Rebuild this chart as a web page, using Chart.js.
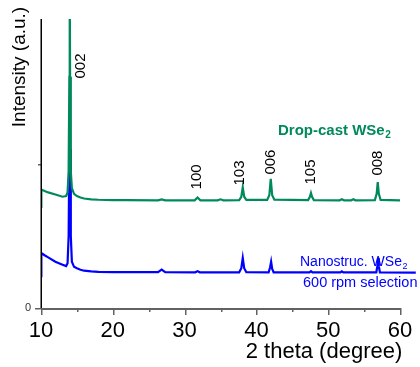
<!DOCTYPE html>
<html>
<head>
<meta charset="utf-8">
<script src="https://cdn.jsdelivr.net/npm/chart.js@4.4.1/dist/chart.umd.min.js"></script>
<style>
  html, body { margin: 0; padding: 0; background: #fff; }
  #wrap { width: 420px; height: 367px; }
</style>
</head>
<body>
<div id="wrap"><canvas id="grafica" width="420" height="367"></canvas></div>
<script>
// XRD patterns of WSe2 (2 theta in degrees, intensity offset per curve)
Chart.defaults.font.family = "'Liberation Sans', Arial, sans-serif";

const dropTheta = [10.0, 10.05, 10.5, 11, 12, 13, 13.5, 13.7, 13.85, 13.95, 14.0, 14.05, 14.15, 14.3, 14.6, 15, 15.5, 16, 17, 18, 20, 22,
  26.3, 26.8, 27.3, 31.4, 31.8, 32.2, 34.6, 35.0, 35.4, 37.6, 37.9, 38.1, 38.3, 38.6, 41.5, 41.8, 42.0, 42.2, 42.5,
  47.2, 47.45, 47.6, 47.75, 48.0, 51.6, 51.9, 52.2, 53.2, 53.5, 53.8, 56.5, 56.75, 56.9, 57.05, 57.3, 60];
const dropInt = [0.70, 0.82, 0.81, 0.80, 0.785, 0.77, 0.775, 0.80, 0.95, 1.6, 2.3, 1.6, 0.95, 0.83, 0.79, 0.775, 0.765, 0.758, 0.752, 0.749, 0.747, 0.746,
  0.745, 0.752, 0.745, 0.745, 0.765, 0.745, 0.745, 0.752, 0.745, 0.747, 0.77, 0.835, 0.77, 0.748, 0.748, 0.78, 0.893, 0.78, 0.75,
  0.747, 0.77, 0.796, 0.77, 0.747, 0.745, 0.752, 0.745, 0.745, 0.752, 0.745, 0.747, 0.79, 0.872, 0.79, 0.748, 0.745];

const nanoTheta = [10.0, 10.05, 10.5, 11, 12, 13, 13.5, 13.7, 13.85, 13.95, 14.0, 14.05, 14.15, 14.3, 14.6, 15, 15.5, 16, 17, 18, 20,
  26.3, 26.8, 27.3, 31.5, 31.8, 32.1, 37.6, 37.9, 38.1, 38.3, 38.6, 41.7, 41.9, 42.05, 42.2, 42.4,
  47.4, 47.6, 47.8, 51.7, 51.9, 52.1, 56.7, 56.85, 56.95, 57.05, 57.2, 62.2];
const nanoInt = [0.22, 0.38, 0.365, 0.35, 0.32, 0.30, 0.29, 0.31, 0.5, 1.1, 1.35, 1.1, 0.5, 0.32, 0.285, 0.275, 0.265, 0.258, 0.253, 0.25, 0.248,
  0.248, 0.265, 0.248, 0.247, 0.255, 0.247, 0.247, 0.275, 0.346, 0.275, 0.248, 0.247, 0.28, 0.32, 0.27, 0.247,
  0.247, 0.255, 0.247, 0.246, 0.254, 0.246, 0.247, 0.29, 0.345, 0.29, 0.247, 0.245];

// peak indices and where their labels sit (2 theta, intensity)
const hklLabels = ["002", "100", "103", "006", "105", "008"];
const hklTheta = [15.6, 31.7, 37.7, 42.0, 47.6, 56.9];
const hklInt = [1.675, 0.907, 0.934, 1.01, 0.941, 1.003];

const xTicks = [10, 20, 30, 40, 50, 60];
const xMinorTicks = [15, 25, 35, 45, 55];

const green = "rgb(0,138,92)";
const blue = "rgb(0,0,255)";
const FONT = "'Liberation Sans', Arial, sans-serif";

function toPts(xs, ys) {
  return xs.map(function (x, i) { return { x: x, y: ys[i] }; });
}

// subscripted text, e.g. WSe + 2
function subText(ctx, main, sub, x, y, size, bold) {
  const w = bold ? "bold " : "";
  ctx.font = w + size + "px " + FONT;
  ctx.fillText(main, x, y);
  const mw = ctx.measureText(main).width;
  ctx.font = w + Math.round(size * 0.65) + "px " + FONT;
  ctx.fillText(sub, x + mw + 0.5, y + size * 0.3);
}

const extras = {
  id: "extras",
  afterDraw: function (chart) {
    const ctx = chart.ctx;
    const xs = chart.scales.x, ys = chart.scales.y;
    const area = chart.chartArea;
    const yb = Math.round(ys.getPixelForValue(0));
    const xl = Math.round(xs.getPixelForValue(10));
    ctx.save();

    // x axis line + tick marks
    ctx.fillStyle = "#626262";
    ctx.fillRect(xl, yb, Math.round(xs.getPixelForValue(60)) - xl + 1, 2);
    xTicks.forEach(function (t) {
      ctx.fillRect(Math.round(xs.getPixelForValue(t)), yb, 1.5, 7);
    });
    xMinorTicks.forEach(function (t) {
      ctx.fillRect(Math.round(xs.getPixelForValue(t)), yb, 1.5, 4);
    });
    // y tick marks
    ctx.fillRect(xl - 6, yb, 6, 1.5);
    ctx.fillRect(xl - 3, Math.round(ys.getPixelForValue(1)), 3, 1.5);
    // y axis line
    ctx.fillStyle = "#000";
    ctx.fillRect(xl - 0.5, Math.round(area.top), 1.5, yb - Math.round(area.top));

    ctx.fillStyle = "#333";
    ctx.font = "11px " + FONT;
    ctx.textAlign = "center";
    ctx.textBaseline = "middle";
    ctx.fillText("0", 28, yb);

    // x tick labels
    ctx.fillStyle = "#000";
    ctx.font = "22px " + FONT;
    xTicks.forEach(function (t) {
      ctx.fillText(String(t), xs.getPixelForValue(t), yb + 23);
    });

    // axis titles
    ctx.fillText("2 theta (degree)", 324, 352);
    ctx.save();
    ctx.translate(20, 67);
    ctx.rotate(-Math.PI / 2);
    ctx.font = "19px " + FONT;
    ctx.fillText("Intensity (a.u.)", 0, 0);
    ctx.restore();

    // peak labels
    ctx.font = "15px " + FONT;
    hklLabels.forEach(function (lab, i) {
      ctx.save();
      ctx.translate(xs.getPixelForValue(hklTheta[i]), ys.getPixelForValue(hklInt[i]));
      ctx.rotate(-Math.PI / 2);
      ctx.fillText(lab, 0, 0);
      ctx.restore();
    });

    // curve names
    ctx.textAlign = "left";
    ctx.fillStyle = green;
    subText(ctx, "Drop-cast WSe", "2", 278, 131, 15, true);
    ctx.fillStyle = blue;
    subText(ctx, "Nanostruc. WSe", "2", 300, 262, 14, false);
    ctx.font = "14.5px " + FONT;
    ctx.fillText("600 rpm selection", 303, 283);
    ctx.restore();
  }
};

const data = {
  datasets: [
    {
      label: "Drop-cast WSe2",
      data: toPts(dropTheta, dropInt),
      borderColor: green,
      borderWidth: 2.2,
      pointRadius: 0,
      tension: 0,
      clip: { left: 0, top: 0, right: 0, bottom: 0 }
    },
    {
      label: "Nanostruc. WSe2",
      data: toPts(nanoTheta, nanoInt),
      borderColor: blue,
      borderWidth: 2.2,
      pointRadius: 0,
      tension: 0,
      clip: { left: 0, top: 0, right: 20, bottom: 0 }
    }
  ]
};

const config = {
  type: "line",
  data: data,
  plugins: [extras],
  options: {
    responsive: false,
    animation: false,
    events: [],
    layout: { padding: { left: 0, right: 20, top: 19, bottom: 0 } },
    plugins: { legend: { display: false }, tooltip: { enabled: false } },
    scales: {
      x: {
        type: "linear",
        min: 10,
        max: 60,
        grid: { display: false },
        border: { display: false },
        ticks: { display: false },
        afterFit: function (s) { s.height = 59; }
      },
      y: {
        min: 0,
        max: 2,
        grid: { display: false },
        border: { display: false },
        ticks: { display: false },
        afterFit: function (s) { s.width = 41; }
      }
    }
  }
};

const grafica = document.getElementById("grafica");
let myChart = new Chart(grafica, config);
</script>
</body>
</html>
